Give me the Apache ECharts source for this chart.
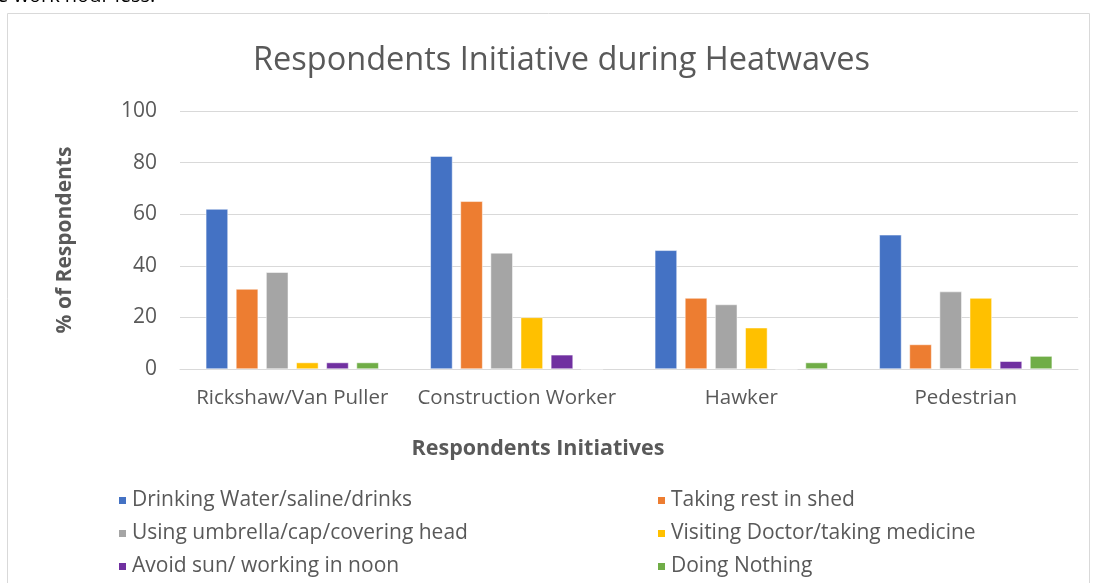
<!DOCTYPE html>
<html>
<head>
<meta charset="utf-8">
<script src="https://cdn.jsdelivr.net/npm/echarts@6/dist/echarts.min.js"></script>
<style>
  html, body { margin: 0; padding: 0; background: #fff; }
  #chart { width: 1098px; height: 583px; }
</style>
</head>
<body>
<div id="chart"></div>
<script>
// categories and series
const categories = ['Rickshaw/Van Puller', 'Construction Worker', 'Hawker', 'Pedestrian']
const drinkingWater = [62, 82.5, 46, 52]
const takingRest = [31, 65, 27.5, 9.5]
const usingUmbrella = [37.5, 45, 25, 30]
const visitingDoctor = [2.5, 20, 16, 27.5]
const avoidSun = [2.5, 5.5, 0, 3]
const doingNothing = [2.5, 0, 2.5, 5]
const yTicks = [0, 20, 40, 60, 80, 100]

const seriesNames = [
  'Drinking Water/saline/drinks',
  'Taking rest in shed',
  'Using umbrella/cap/covering head',
  'Visiting Doctor/taking medicine',
  'Avoid sun/ working in noon',
  'Doing Nothing'
]
const seriesData = [drinkingWater, takingRest, usingUmbrella, visitingDoctor, avoidSun, doingNothing]
const colors = ['#4472C4', '#ED7D31', '#A5A5A5', '#FFC000', '#7030A0', '#70AD47']

const font = 'Open Sans'
const textColor = '#595959'

const chart = echarts.init(document.getElementById('chart'))

const legendStyle = {
  orient: 'vertical',
  top: 485,
  itemWidth: 9,
  itemHeight: 9,
  itemGap: 12,
  icon: 'rect',
  textStyle: { fontFamily: font, fontSize: 21, lineHeight: 21, color: textColor }
}

const option = {
  animation: false,
  color: colors,
  title: {
    text: 'Respondents Initiative during Heatwaves',
    left: 248,
    top: 39,
    textStyle: { fontFamily: font, fontSize: 32.5, fontWeight: 'normal', color: textColor }
  },
  graphic: [
    {
      type: 'rect',
      shape: { x: 7.5, y: 13.5, width: 1082, height: 600 },
      style: { fill: 'none', stroke: '#d9d9d9', lineWidth: 1 }
    },
    {
      type: 'text',
      x: -3,
      y: -14,
      style: { text: 'e work hour less.', font: '20px ' + font, fill: '#000' }
    }
  ],
  legend: [
    Object.assign({ left: 112, data: [seriesNames[0], seriesNames[2], seriesNames[4]] }, legendStyle),
    Object.assign({ left: 651, data: [seriesNames[1], seriesNames[3], seriesNames[5]] }, legendStyle)
  ],
  grid: { left: 180, right: 20, top: 111, bottom: 214 },
  xAxis: {
    type: 'category',
    data: categories,
    name: 'Respondents Initiatives',
    nameLocation: 'middle',
    nameGap: 69,
    nameTextStyle: { fontFamily: font, fontSize: 21.5, fontWeight: 'bold', color: textColor, padding: [0, 182, 0, 0] },
    axisLine: { lineStyle: { color: '#d9d9d9', width: 1 } },
    axisTick: { show: false },
    axisLabel: { fontFamily: font, fontSize: 20.5, color: textColor, margin: 19, interval: 0 }
  },
  yAxis: {
    type: 'value',
    min: yTicks[0],
    max: yTicks[yTicks.length - 1],
    interval: 20,
    name: '% of Respondents',
    nameLocation: 'middle',
    nameGap: 104,
    nameTextStyle: { fontFamily: font, fontSize: 21, fontWeight: 'bold', color: textColor },
    axisLine: { show: false },
    axisTick: { show: false },
    axisLabel: { fontFamily: font, fontSize: 21, color: textColor, margin: 23 },
    splitLine: { lineStyle: { color: '#d9d9d9', width: 1 } }
  },
  series: seriesNames.map(function (name, i) {
    return {
      name: name,
      type: 'bar',
      data: seriesData[i],
      barGap: '36%',
      barCategoryGap: '23%',
      itemStyle: { borderColor: '#ffffff', borderWidth: 0.5 }
    }
  })
}

chart.setOption(option)
</script>
</body>
</html>
